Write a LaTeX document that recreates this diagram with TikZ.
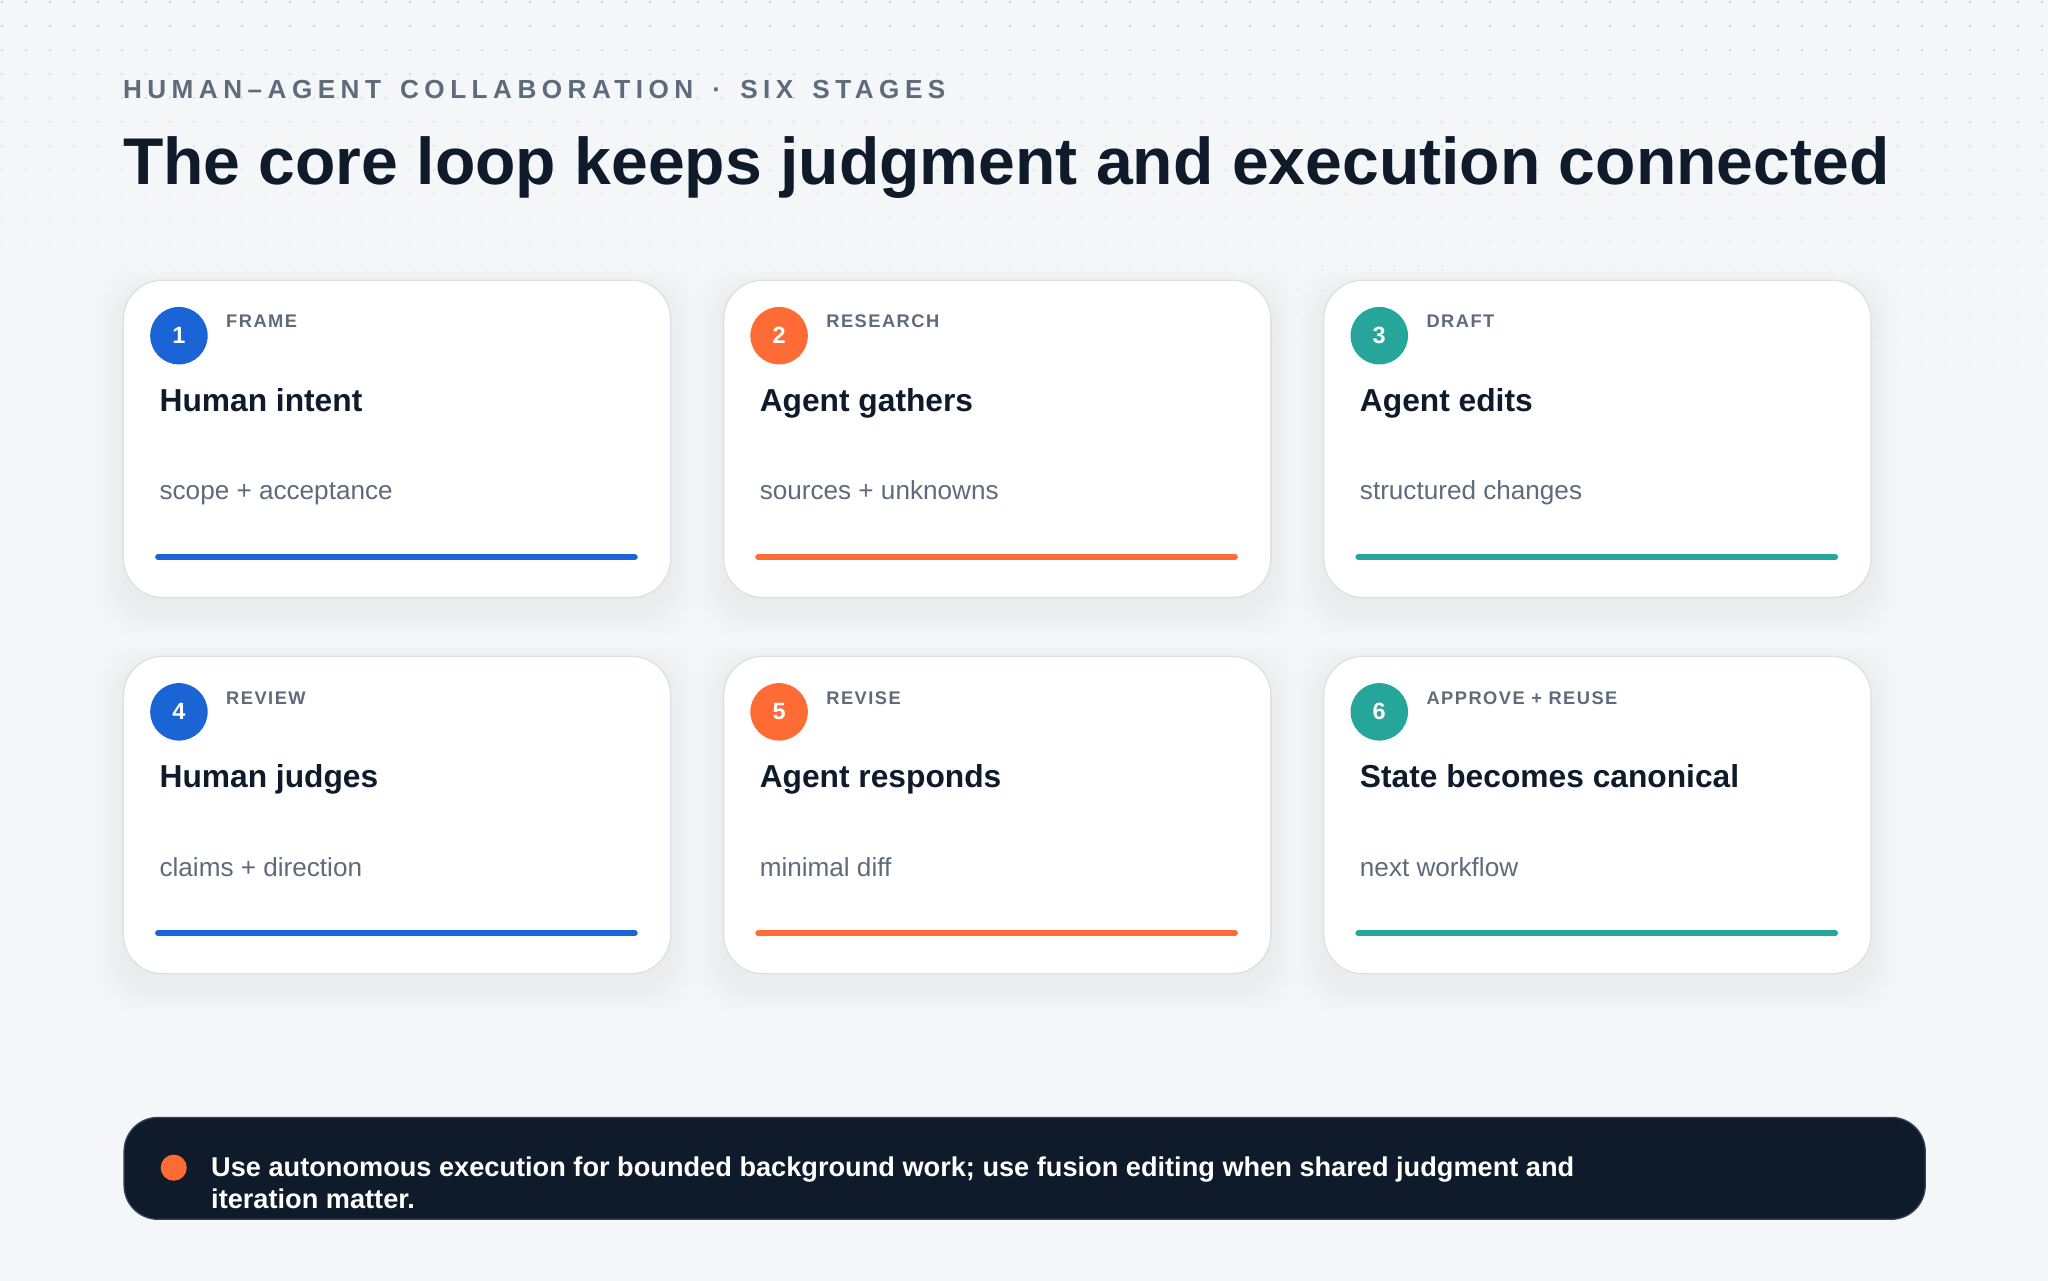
\documentclass[tikz,border=0pt]{standalone}
\usepackage{fontspec}
\setmainfont{Liberation Sans}
\newfontfamily\trackfont[LetterSpace=21,WordSpace=1.5]{Liberation Sans}
\newfontfamily\tagfont[LetterSpace=8]{Liberation Sans}
\usetikzlibrary{positioning}

\definecolor{paper}{HTML}{F4F6F8}
\definecolor{dotc}{HTML}{CBD2DA}
\definecolor{ink}{HTML}{0F1B2B}
\definecolor{slate}{HTML}{5E6B7B}
\definecolor{cardline}{HTML}{DCE1E7}
\definecolor{sblue}{HTML}{1A64D6}
\definecolor{sorange}{HTML}{FF6B35}
\definecolor{steal}{HTML}{26A69A}
\definecolor{tipline}{HTML}{33425A}

\tikzset{
  card/.style={draw=cardline, line width=1pt, fill=white, rounded corners=30pt,
    minimum width=419pt, minimum height=243pt, anchor=north west, inner sep=0pt},
  badge/.style={circle, minimum size=44pt, inner sep=0pt, text=white,
    font=\bfseries\fontsize{18}{18}\selectfont},
  tag/.style={anchor=base west, inner sep=0pt, text=slate,
    font=\tagfont\bfseries\fontsize{14}{14}\selectfont},
  head/.style={anchor=base west, inner sep=0pt, text=ink,
    font=\bfseries\fontsize{24.3}{28}\selectfont},
  note/.style={anchor=base west, inner sep=0pt, text=slate,
    font=\fontsize{20}{24}\selectfont},
  bar/.style={line width=4.5pt, line cap=round},
}

\begin{document}
\begin{tikzpicture}[x=1pt,y=-1pt]
  \useasboundingbox (0,0) rectangle (1568,980);
  \fill[paper] (-2,-2) rectangle (1570,982);

  % dot grid, fading out downwards
  \foreach \i in {0,...,85}{
    \foreach \j in {0,...,16}{
      \pgfmathsetmacro\px{1.5+18.375*\i}
      \pgfmathsetmacro\py{1.5+18.375*\j}
      \pgfmathsetmacro\op{max(0,min(1,1-\py/(215+0.06*\px)))}
      \fill[dotc, opacity=\op] (\px,\py) circle (1);
    }
  }

  \node[anchor=base west, inner sep=0pt, text=slate,
    font=\trackfont\bfseries\fontsize{20}{24}\selectfont] (kicker) at (94,75.5)
    {HUMAN–AGENT COLLABORATION · SIX STAGES};
  \node[anchor=base west, inner sep=0pt, text=ink,
    font=\bfseries\fontsize{50.6}{60}\selectfont] (title) at (94,141)
    {The core loop keeps judgment and execution connected};

  % stage cards
  \foreach \n/\x/\y/\c/\lab/\hd/\sb in {
      1/94/214/sblue/FRAME/Human intent/scope + acceptance,
      2/553.5/214/sorange/RESEARCH/Agent gathers/sources + unknowns,
      3/1013/214/steal/DRAFT/Agent edits/structured changes,
      4/94/502/sblue/REVIEW/Human judges/claims + direction,
      5/553.5/502/sorange/REVISE/Agent responds/minimal diff,
      6/1013/502/steal/APPROVE + REUSE/State becomes canonical/next workflow}{
    \foreach \s in {2,4,...,20}
      \fill[black, opacity=0.004, rounded corners=30pt]
        (\x-\s,\y-\s+10) rectangle (\x+419+\s,\y+243+\s+10);
    \node[card] (c\n) at (\x,\y) {};
    \node[badge, fill=\c] (b\n) at ([shift={(43,43)}]c\n.north west) {\n};
    \node[tag] (t\n) at ([shift={(79,37)}]c\n.north west) {\lab};
    \node[head] (h\n) at ([shift={(28,100.7)}]c\n.north west) {\hd};
    \node[note] (s\n) at ([shift={(28,168.8)}]c\n.north west) {\sb};
    \draw[bar, draw=\c] ([shift={(27,212.5)}]c\n.north west)
      -- ([shift={(392,212.5)}]c\n.north west);
  }

  % takeaway banner
  \node[draw=tipline, line width=1pt, fill=ink, rounded corners=26pt,
    minimum width=1379pt, minimum height=78pt, anchor=north west,
    inner sep=0pt] (tip) at (94.5,855) {};
  \node[circle, fill=sorange, minimum size=20pt, inner sep=0pt] (tipdot)
    at ([shift={(38.5,39)}]tip.north west) {};
  \node[anchor=base west, inner sep=0pt, text=white, align=left,
    font=\bfseries\fontsize{20.8}{24.5}\selectfont] (tiptext) at (161.5,925)
    {Use autonomous execution for bounded background work; use fusion editing when shared judgment and\\iteration matter.};
\end{tikzpicture}
\end{document}
